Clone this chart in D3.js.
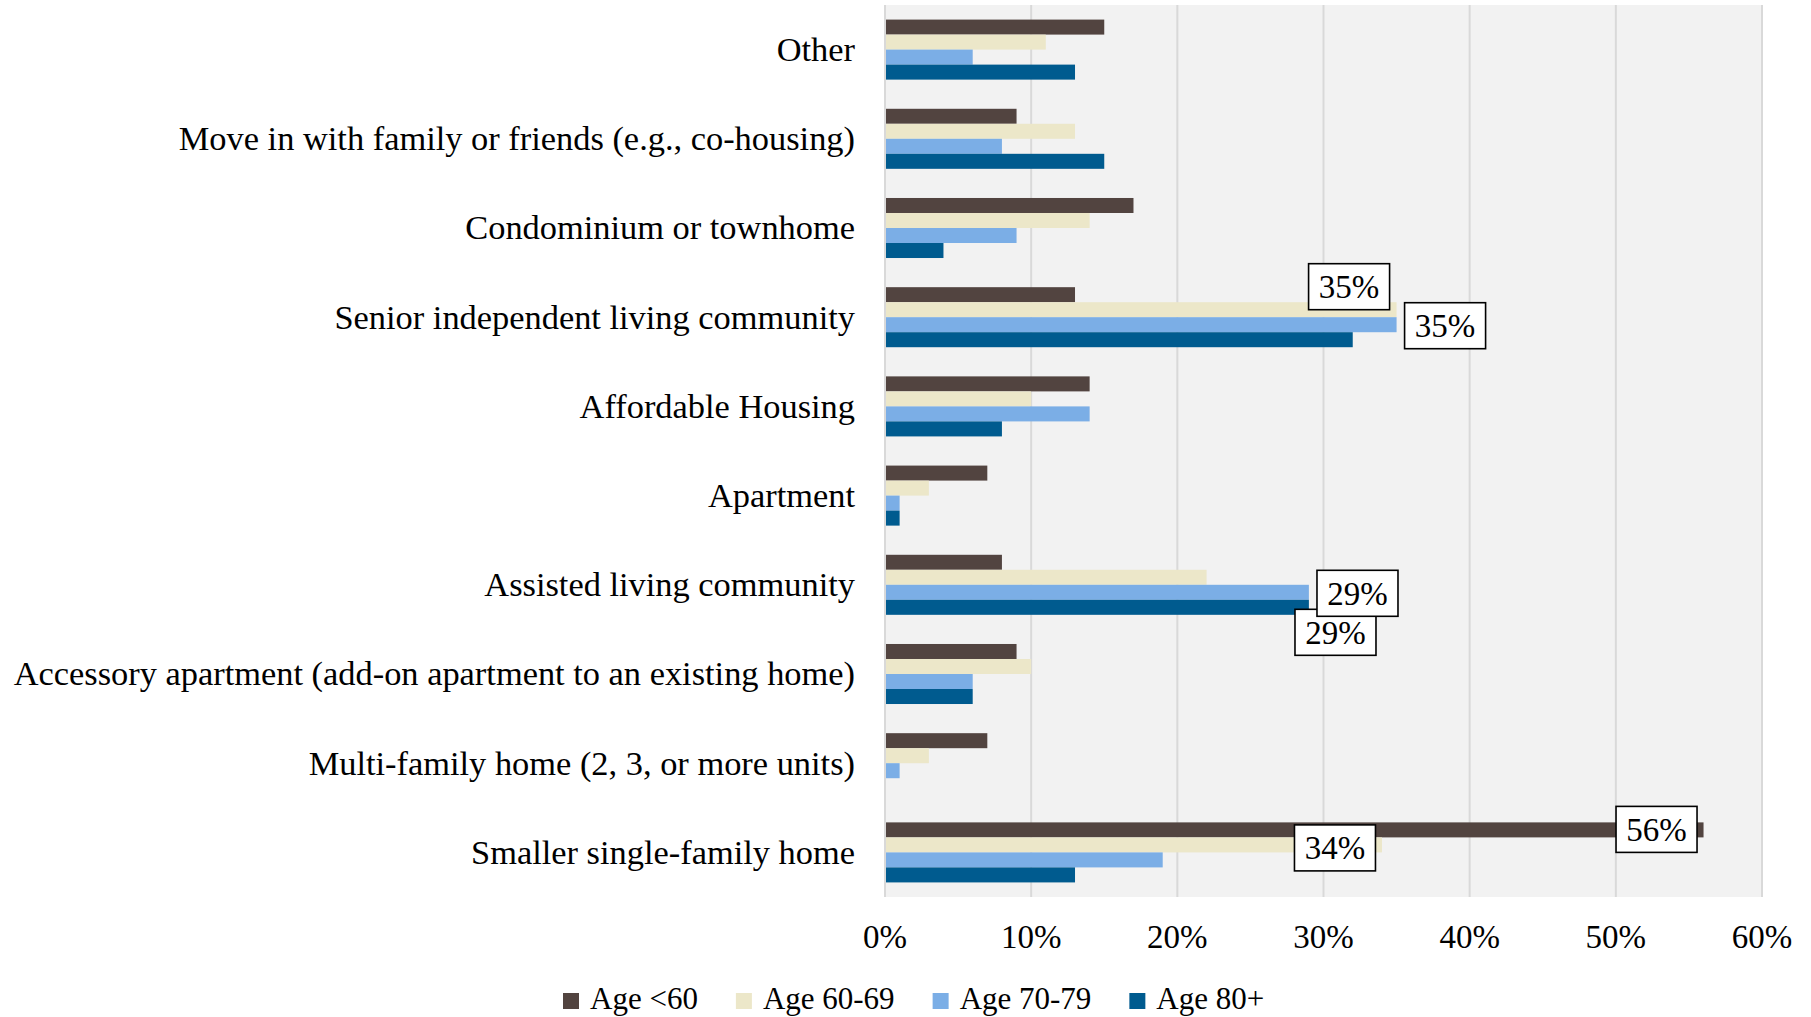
<!DOCTYPE html>
<html>
<head>
<meta charset="utf-8">
<script src="https://cdn.jsdelivr.net/npm/d3@7"></script>
<style>
  html, body { margin: 0; padding: 0; background: #ffffff; }
  svg { display: block; }
  text { font-family: "Liberation Serif", "Times New Roman", serif; fill: #000; }
</style>
</head>
<body>
<svg id="chart" width="1811" height="1017"></svg>
<script>
// Housing types, listed top to bottom
const categories = [
  "Other",
  "Move in with family or friends (e.g., co-housing)",
  "Condominium or townhome",
  "Senior independent living community",
  "Affordable Housing",
  "Apartment",
  "Assisted living community",
  "Accessory apartment (add-on apartment to an existing home)",
  "Multi-family home (2, 3, or more units)",
  "Smaller single-family home"
];

const seriesNames = ["Age <60", "Age 60-69", "Age 70-79", "Age 80+"];
const seriesColors = ["#524440", "#ECE7C9", "#7BAEE6", "#005B8F"];

// Percent of respondents per housing type (same order as categories)
const ageUnder60 = [15, 9, 17, 13, 14, 7, 8, 9, 7, 56];
const age60to69  = [11, 13, 14, 35, 10, 3, 22, 10, 3, 34];
const age70to79  = [6, 8, 9, 35, 14, 1, 29, 6, 1, 19];
const age80plus  = [13, 15, 4, 32, 8, 1, 29, 6, 0, 13];
const seriesValues = [ageUnder60, age60to69, age70to79, age80plus];

const xTicks = [0, 10, 20, 30, 40, 50, 60];

// Bars that carry a value label: [category index, series index]
const labelledBars = [
  [3, 1], [3, 2], [6, 3], [6, 2], [9, 0], [9, 1]
];

const svg = d3.select("#chart");
const plot = { left: 885, right: 1762, top: 5, bottom: 897 };

const x = d3.scaleLinear().domain([0, 60]).range([plot.left, plot.right]);
const y = d3.scaleBand().domain(categories).range([plot.top, plot.bottom])
  .paddingInner(0.327).paddingOuter(0.1635);
const ySeries = d3.scaleBand().domain(seriesNames).range([0, y.bandwidth()]);

// Plot background
svg.append("rect")
  .attr("x", plot.left).attr("y", plot.top)
  .attr("width", plot.right - plot.left).attr("height", plot.bottom - plot.top)
  .attr("fill", "#F2F2F2");

// Vertical gridlines
svg.append("g").selectAll("line").data(xTicks).join("line")
  .attr("x1", d => x(d)).attr("x2", d => x(d))
  .attr("y1", plot.top).attr("y2", plot.bottom)
  .attr("stroke", "#D9D9D9").attr("stroke-width", 2);

// Bars
const rows = categories.map((c, i) => ({ cat: c, values: seriesValues.map(s => s[i]) }));
const groups = svg.append("g").selectAll("g").data(rows).join("g")
  .attr("transform", d => `translate(0,${y(d.cat)})`);
groups.selectAll("rect")
  .data(d => d.values.map((v, k) => ({ v, k })))
  .join("rect")
  .attr("x", x(0) + 1)
  .attr("y", d => ySeries(seriesNames[d.k]))
  .attr("width", d => Math.max(0, x(d.v) - x(0) - 1))
  .attr("height", ySeries.bandwidth())
  .attr("fill", d => seriesColors[d.k]);

// Category axis labels
svg.append("g").selectAll("text").data(categories).join("text")
  .attr("x", plot.left - 30)
  .attr("y", d => y(d) + y.bandwidth() / 2)
  .attr("dy", "0.33em")
  .attr("text-anchor", "end")
  .attr("font-size", 34.4)
  .text(d => d);

// Value axis tick labels
svg.append("g").selectAll("text").data(xTicks).join("text")
  .attr("x", d => x(d))
  .attr("y", 948)
  .attr("text-anchor", "middle")
  .attr("font-size", 33)
  .text(d => d + "%");

// Boxed value labels, nudged around the bar ends
const nudges = {
  "3-1": [-47.5, -23], "3-2": [48.5, 1],
  "6-2": [48.6, 1],    "6-3": [26.6, 25],
  "9-0": [-47, -0.5],  "9-1": [-47, 3]
};
const boxW = 81, boxH = 46;
const labels = svg.append("g").selectAll("g").data(labelledBars).join("g")
  .attr("transform", ([ci, si]) => {
    const v = seriesValues[si][ci];
    const cy = y(categories[ci]) + ySeries(seriesNames[si]) + ySeries.bandwidth() / 2;
    const [dx, dy] = nudges[ci + "-" + si];
    return `translate(${x(v) + dx},${cy + dy})`;
  });
labels.append("rect")
  .attr("x", -boxW / 2).attr("y", -boxH / 2)
  .attr("width", boxW).attr("height", boxH)
  .attr("fill", "#fff").attr("stroke", "#000").attr("stroke-width", 1.6);
labels.append("text")
  .attr("text-anchor", "middle")
  .attr("dy", "0.34em")
  .attr("font-size", 33)
  .text(([ci, si]) => seriesValues[si][ci] + "%");

// Legend
const legend = svg.append("g").attr("transform", "translate(563,1001)");
let lx = 0;
seriesNames.forEach((name, k) => {
  const item = legend.append("g").attr("transform", `translate(${lx},0)`);
  item.append("rect").attr("x", 0).attr("y", -8).attr("width", 16).attr("height", 16)
    .attr("fill", seriesColors[k]);
  const t = item.append("text").attr("x", 27).attr("y", 8).attr("font-size", 31).text(name);
  lx += 27 + t.node().getComputedTextLength() + 38;
});
</script>
</body>
</html>
